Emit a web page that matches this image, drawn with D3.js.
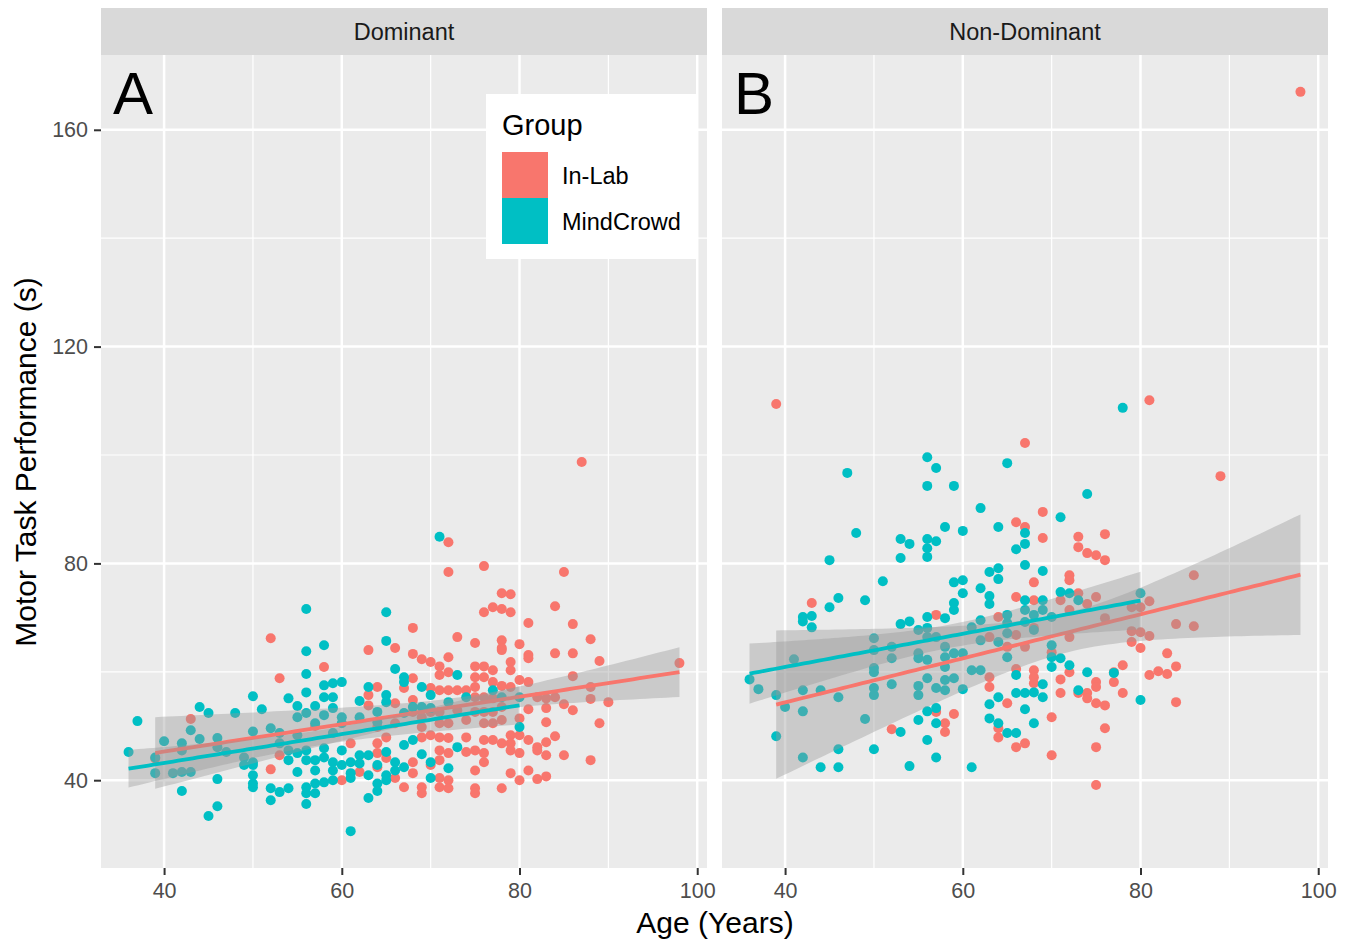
<!DOCTYPE html>
<html><head><meta charset="utf-8">
<script src="https://cdn.jsdelivr.net/npm/d3@7"></script>
<style>
html,body{margin:0;padding:0;background:#fff;}
text{font-family:"Liberation Sans",Arial,"DejaVu Sans",sans-serif;}
</style></head>
<body><svg id="chart" width="1357" height="944"></svg>
<script>
// ---------- DATA (age in years, performance in seconds) ----------
const panels = ["Dominant", "Non-Dominant"];
const panelLetters = ["A", "B"];
const groups = ["In-Lab", "MindCrowd"];
const groupColors = ["#F8766D", "#00BFC4"];
const xTicks = [40, 60, 80, 100];
const xMinor = [30, 50, 70, 90];
const yTicks = [40, 80, 120, 160];
const yMinor = [60, 100, 140];

const domCrowd = [
[56,71.6],[56,63.8],[56,59.6],[56,56.2],[50,55.5],[54,55.1],[51,53.1],[55,53.7],[55,51.6],[56,52.4],
[44,53.5],[45,52.4],[48,52.4],[37,50.9],[43,49.2],[50,49.0],[52,49.6],[40,47.2],[44,47.6],[46,47.8],
[46,46.1],[42,46.8],[42,45.5],[36,45.2],[39,44.2],[47,45.2],[53,48.7],[53,46.8],[55,48.3],[54,45.5],
[55,45.0],[56,45.5],[56,43.7],[49,44.2],[49,42.8],[50,43.3],[50,42.8],[39,41.3],[41,41.3],[42,41.5],
[43,41.5],[54,43.7],[55,41.5],[46,40.2],[50,40.9],[50,39.4],[50,38.7],[42,38.0],[52,38.5],[53,37.8],
[54,38.5],[56,38.7],[56,37.6],[52,36.3],[56,35.6],[46,35.2],[45,33.4],
[65,71.0],[65,65.7],[58,64.9],[66,60.5],[58,57.5],[59,57.9],[60,58.1],[63,57.2],[67,59.0],[67,58.1],
[58,55.3],[59,55.3],[65,55.7],[65,54.4],[69,57.2],[73,59.4],[77,56.6],[78,55.3],[74,55.3],[72,54.4],
[70,55.7],[57,53.7],[59,53.3],[62,54.6],[58,52.0],[68,53.5],[70,53.3],[69,53.5],[60,51.6],[60,50.5],
[62,51.6],[64,52.6],[64,50.7],[67,52.4],[57,50.5],[59,48.7],[58,45.9],[60,45.5],[62,44.6],[63,44.6],
[65,45.2],[67,46.5],[69,44.8],[73,46.1],[68,47.4],[57,43.7],[58,44.2],[59,43.3],[60,42.8],[61,43.3],
[62,43.1],[64,42.8],[66,43.3],[67,42.4],[70,43.3],[72,42.2],[57,41.8],[59,41.8],[61,41.3],[63,40.9],
[65,40.9],[66,41.8],[70,40.4],[57,39.4],[58,39.6],[59,40.0],[61,40.4],[64,39.4],[65,40.0],[57,37.6],
[64,38.0],[63,36.7],[61,30.6],[80,55.3],[80,49.8],[71,84.9]
];
const domLab = [
[43,51.3],[52,66.2],[53,58.8],[52,42.0],[53,44.6],[39,44.0],
[78,74.5],[76,71.0],[77,71.9],[78,71.6],[68,68.1],[73,66.4],[75,65.3],[78,65.8],[78,64.0],[63,64.0],
[66,64.4],[68,63.3],[69,62.3],[70,61.8],[71,61.0],[72,62.7],[58,60.9],[75,61.0],[76,61.0],[77,60.3],
[71,59.4],[72,59.9],[75,59.0],[76,59.0],[78,57.4],[77,58.1],[67,57.0],[68,58.8],[64,57.2],[63,55.7],
[63,53.8],[66,54.2],[68,54.8],[70,57.0],[71,56.6],[72,56.6],[73,56.6],[74,56.6],[75,57.2],[75,55.3],
[76,55.3],[77,55.1],[78,53.5],[68,52.6],[69,51.6],[70,52.6],[71,52.6],[73,52.9],[75,52.6],[76,52.6],
[77,52.6],[57,50.0],[64,49.8],[66,50.5],[69,49.8],[71,50.5],[72,50.5],[74,51.1],[76,50.5],[77,50.5],
[78,51.1],[61,46.8],[64,46.8],[65,47.9],[69,47.9],[70,48.3],[71,47.9],[72,47.8],[74,47.9],[76,47.4],
[77,47.4],[78,46.8],[64,45.0],[65,44.1],[71,45.5],[72,45.0],[74,45.2],[75,45.5],[76,45.0],[76,43.3],
[64,42.4],[68,43.3],[70,42.8],[71,43.7],[75,41.8],[60,40.0],[62,41.5],[66,40.4],[68,41.3],[71,40.4],
[72,40.0],[67,38.7],[69,38.7],[69,37.6],[71,38.7],[72,38.5],[75,38.5],[75,37.6],[78,38.5],
[72,83.9],[72,78.4],[76,79.5],
[87,98.7],[85,78.4],[79,74.3],[79,71.0],[84,72.1],[81,69.0],[86,68.8],[88,66.0],[78,64.4],[80,65.1],
[81,63.1],[81,62.5],[84,63.4],[86,63.4],[89,62.0],[79,61.8],[79,60.3],[98,61.6],[86,59.2],[80,58.5],
[81,58.1],[79,57.2],[88,57.2],[84,55.3],[82,55.3],[83,55.1],[83,53.3],[85,54.0],[88,55.0],[90,54.4],
[86,52.9],[81,53.1],[80,51.4],[83,50.7],[89,50.5],[79,48.3],[80,48.3],[79,46.8],[80,45.0],[79,45.5],
[81,47.4],[82,46.1],[83,47.0],[84,48.1],[82,45.5],[83,44.6],[85,44.6],[88,43.7],[79,41.3],[81,41.8],
[80,40.0],[82,40.2],[83,40.7]
];
const ndomCrowd = [
[56,99.6],[47,96.7],[56,94.3],[48,85.6],[53,84.5],[54,83.6],[56,84.5],[56,82.8],[56,81.2],[53,81.0],
[45,80.6],[51,76.7],[46,73.6],[45,71.9],[49,73.2],[42,70.1],[43,70.3],[42,69.3],[43,68.2],[53,68.8],
[54,69.3],[56,70.1],[55,67.7],[56,68.1],[56,66.4],[50,66.2],[52,64.6],[50,64.0],[55,63.4],[55,62.5],
[52,62.5],[41,62.3],[36,58.6],[50,60.7],[50,59.9],[37,56.8],[39,55.7],[42,56.6],[44,56.6],[46,55.3],
[50,57.0],[50,55.7],[52,57.7],[55,57.4],[55,55.7],[56,58.8],[40,53.5],[42,52.7],[56,52.7],[49,51.3],
[55,51.1],[53,48.9],[56,47.4],[39,48.1],[46,45.7],[50,45.7],[42,44.2],[44,42.4],[46,42.4],[54,42.6],
[78,108.7],[57,97.6],[65,98.5],[59,94.3],[74,92.8],[62,90.2],[71,88.5],[58,86.7],[60,86.0],[64,86.7],
[57,84.1],[67,85.6],[67,83.6],[66,82.6],[67,79.7],[69,78.6],[63,78.4],[64,79.1],[64,77.1],[59,76.5],
[60,76.9],[60,74.5],[62,75.4],[63,74.0],[63,72.5],[59,72.7],[59,71.4],[58,69.9],[62,69.5],[65,70.5],
[65,69.0],[67,73.2],[67,71.4],[68,70.5],[69,73.2],[69,71.4],[71,74.7],[72,74.5],[73,73.2],[70,70.1],
[61,68.2],[57,66.4],[58,64.6],[62,65.8],[64,65.5],[65,67.1],[67,69.2],[68,67.7],[70,64.9],[56,62.2],
[58,62.7],[59,63.4],[60,63.4],[65,62.7],[70,62.7],[71,62.5],[58,60.9],[70,60.9],[72,61.2],[61,60.3],
[62,60.3],[74,59.9],[77,59.8],[66,59.4],[58,58.5],[59,58.8],[57,57.0],[58,56.6],[60,56.8],[66,56.1],
[67,56.1],[68,56.2],[69,57.7],[69,55.3],[73,56.6],[63,54.0],[64,55.3],[67,53.1],[57,53.3],[63,51.4],
[64,50.5],[68,50.5],[57,50.5],[65,48.7],[66,48.7],[57,44.2],[61,42.4],[80,74.5],[80,54.8]
];
const ndomLab = [
[39,109.4],[43,72.7],[52,49.4],
[67,102.2],[69,89.5],[66,87.6],[67,86.7],[69,84.7],[73,84.9],[73,83.0],[74,81.9],[75,81.5],[76,85.4],
[76,80.6],[72,77.8],[72,76.9],[68,76.5],[66,73.8],[68,73.2],[73,74.5],[74,72.5],[75,73.8],[71,73.2],
[57,70.5],[64,70.1],[72,71.4],[76,69.9],[68,68.1],[63,66.4],[66,66.8],[72,66.4],[65,64.6],[67,64.6],
[70,63.6],[66,60.5],[68,60.3],[68,59.0],[71,58.6],[72,59.9],[75,58.1],[75,57.2],[77,58.1],[77,59.9],
[78,61.2],[78,56.1],[63,59.0],[63,57.2],[68,57.9],[71,56.1],[73,56.1],[74,56.1],[74,55.1],[75,54.2],
[76,53.8],[65,54.2],[57,52.6],[59,52.2],[58,50.5],[58,48.9],[64,49.6],[64,47.9],[70,51.6],[76,49.6],
[66,46.1],[67,46.8],[75,46.1],[70,44.6],[75,39.1],
[81,110.1],[89,96.1],[86,77.8],[81,73.0],[79,71.9],[80,71.9],[84,68.8],[86,68.4],[79,67.5],[80,67.3],
[81,66.6],[79,65.5],[80,64.4],[83,63.4],[84,61.0],[81,59.4],[82,60.1],[83,59.6],[84,54.4],[98,167.0]
];
const panelData = [[domLab, domCrowd], [ndomLab, ndomCrowd]];

// ---------- LAYOUT ----------
const svg = d3.select("#chart");
const panelX = [[101, 707], [722, 1328]];
const pTop = 55, pBottom = 868, stripTop = 8;
const yScale = d3.scaleLinear().domain([23.8, 173.8]).range([pBottom, pTop]);

function fitLine(pts) {
  const n = pts.length;
  const xm = d3.mean(pts, d => d[0]), ym = d3.mean(pts, d => d[1]);
  let sxx = 0, sxy = 0;
  pts.forEach(d => { sxx += (d[0]-xm)**2; sxy += (d[0]-xm)*(d[1]-ym); });
  const b = sxy / sxx, a = ym - b * xm;
  let sse = 0; pts.forEach(d => { sse += (d[1] - a - b*d[0])**2; });
  const s = Math.sqrt(sse / (n - 2));
  const t = 1.98;
  const [x0, x1] = d3.extent(pts, d => d[0]);
  const xs = d3.range(80).map(i => x0 + (x1 - x0) * i / 79);
  return xs.map(x => {
    const f = a + b * x;
    const se = s * Math.sqrt(1/n + (x - xm)**2 / sxx);
    return {x, f, lo: f - t*se, hi: f + t*se};
  });
}

panels.forEach((name, pi) => {
  const [x0, x1] = panelX[pi];
  const xScale = d3.scaleLinear().domain([32.9, 101.1]).range([x0, x1]);
  const g = svg.append("g");
  g.append("rect").attr("x", x0).attr("y", stripTop).attr("width", x1 - x0).attr("height", pTop - stripTop).attr("fill", "#D9D9D9");
  g.append("text").attr("x", (x0 + x1) / 2).attr("y", 40).attr("text-anchor", "middle")
    .attr("font-size", 23.5).attr("fill", "#1A1A1A").text(name);
  g.append("rect").attr("x", x0).attr("y", pTop).attr("width", x1 - x0).attr("height", pBottom - pTop).attr("fill", "#EBEBEB");
  xMinor.forEach(v => { if (xScale(v) > x0) g.append("line").attr("x1", xScale(v)).attr("x2", xScale(v)).attr("y1", pTop).attr("y2", pBottom).attr("stroke", "#fff").attr("stroke-width", 1.2); });
  yMinor.forEach(v => g.append("line").attr("x1", x0).attr("x2", x1).attr("y1", yScale(v)).attr("y2", yScale(v)).attr("stroke", "#fff").attr("stroke-width", 1.2));
  xTicks.forEach(v => g.append("line").attr("x1", xScale(v)).attr("x2", xScale(v)).attr("y1", pTop).attr("y2", pBottom).attr("stroke", "#fff").attr("stroke-width", 2.5));
  yTicks.forEach(v => g.append("line").attr("x1", x0).attr("x2", x1).attr("y1", yScale(v)).attr("y2", yScale(v)).attr("stroke", "#fff").attr("stroke-width", 2.5));

  const xAxis = d3.axisBottom(xScale).tickValues(xTicks).tickSize(7).tickPadding(8);
  const xa = g.append("g").attr("transform", `translate(0,${pBottom})`).call(xAxis);
  xa.select(".domain").remove();
  xa.selectAll("line").attr("stroke", "#333").attr("stroke-width", 2);
  xa.selectAll("text").attr("font-size", 21.5).attr("fill", "#4D4D4D").attr("font-family", "Liberation Sans, Arial, sans-serif");
  if (pi === 0) {
    const ya = g.append("g").attr("transform", `translate(${x0},0)`).call(d3.axisLeft(yScale).tickValues(yTicks).tickSize(7).tickPadding(6));
    ya.select(".domain").remove();
    ya.selectAll("line").attr("stroke", "#333").attr("stroke-width", 2);
    ya.selectAll("text").attr("font-size", 21.5).attr("fill", "#4D4D4D").attr("font-family", "Liberation Sans, Arial, sans-serif");
  }

  panelData[pi].forEach((pts, gi) => {
    g.append("g").selectAll("circle").data(pts).join("circle")
      .attr("cx", d => xScale(d[0])).attr("cy", d => yScale(d[1])).attr("r", 5)
      .attr("fill", groupColors[gi]);
  });
  panelData[pi].forEach((pts, gi) => {
    const fit = fitLine(pts);
    g.append("path").datum(fit)
      .attr("d", d3.area().x(d => xScale(d.x)).y0(d => yScale(d.lo)).y1(d => yScale(d.hi)))
      .attr("fill", "#999999").attr("fill-opacity", 0.4);
    g.append("path").datum(fit)
      .attr("d", d3.line().x(d => xScale(d.x)).y(d => yScale(d.f)))
      .attr("fill", "none").attr("stroke", groupColors[gi]).attr("stroke-width", 3.8);
  });

  g.append("text").attr("x", x0 + 12).attr("y", 114).attr("font-size", 60).attr("fill", "#000").text(panelLetters[pi]);
});

const lg = svg.append("g");
lg.append("rect").attr("x", 486).attr("y", 94).attr("width", 211).attr("height", 165).attr("fill", "#fff");
lg.append("text").attr("x", 502).attr("y", 135).attr("font-size", 29).attr("fill", "#000").text("Group");
groups.forEach((gname, i) => {
  lg.append("rect").attr("x", 502).attr("y", 152 + i * 46).attr("width", 46).attr("height", 46).attr("fill", groupColors[i]);
  lg.append("text").attr("x", 562).attr("y", 184 + i * 46).attr("font-size", 23.5).attr("fill", "#000").text(gname);
});

svg.append("text").attr("x", 715).attr("y", 933).attr("text-anchor", "middle").attr("font-size", 30).attr("fill", "#000").text("Age (Years)");
svg.append("text").attr("transform", "translate(36,462) rotate(-90)").attr("text-anchor", "middle").attr("font-size", 30).attr("fill", "#000").text("Motor Task Performance (s)");
</script></body></html>
